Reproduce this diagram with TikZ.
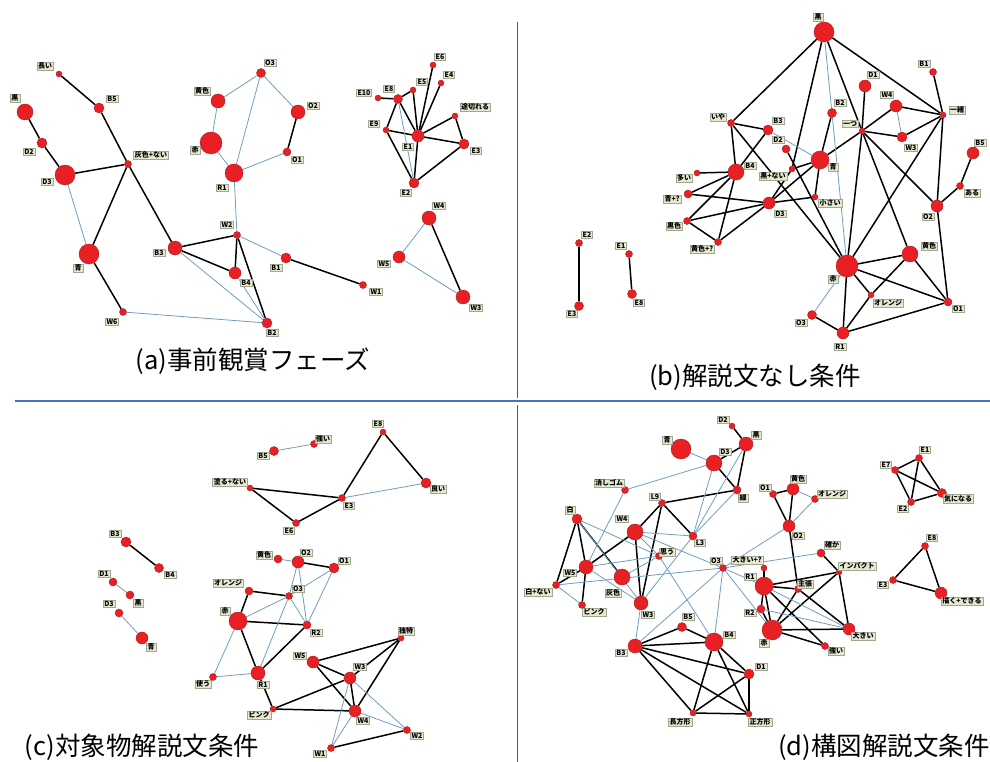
\documentclass[tikz,border=0pt]{standalone}
\usepackage{fontspec}
\newfontfamily\cjk{Noto Sans CJK JP}
\usetikzlibrary{backgrounds}
\definecolor{nred}{RGB}{232,32,36}
\definecolor{nbord}{RGB}{165,30,30}
\definecolor{lfill}{RGB}{230,232,208}
\definecolor{lbord}{RGB}{160,168,145}
\definecolor{eblue}{RGB}{112,158,190}
\definecolor{divblue}{RGB}{68,114,196}
\definecolor{divgray}{RGB}{90,90,90}
\tikzset{
  dot/.style={circle,fill=nred,draw=nbord,line width=0.4pt,inner sep=0pt},
  lbl/.style={fill=lfill,draw=lbord,line width=0.4pt,inner xsep=1.2pt,inner ysep=0.9pt,font=\cjk\fontsize{7}{8}\selectfont\bfseries},
  bk/.style={black,line width=1.5pt},
  bl/.style={eblue,line width=0.8pt},
  captxt/.style={font=\cjk\fontsize{25.5}{30}\selectfont,inner sep=0pt}
}
\newcommand\vx[7]{\node[dot,minimum size=#4pt] (#1) at (#2,#3) {}; \node[lbl] (#1l) at (#5,#6) {#7};}
\begin{document}
\begin{tikzpicture}[x=1pt,y=-1pt]
\useasboundingbox (0,0) rectangle (990,762);
% dividers
\coordinate (vt1) at (517,22); \coordinate (vt2) at (517,398);
\coordinate (vb1) at (517,405); \coordinate (vb2) at (517,762);
\coordinate (h1) at (15,401); \coordinate (h2) at (990,401);
\draw[divgray,line width=0.7pt] (vt1) -- (vt2);
\draw[divgray,line width=0.7pt] (vb1) -- (vb2);
\draw[divblue,line width=1.1pt] (h1) -- (h2);
% ---------- panel a ----------
\vx{aNagai}{59}{74}{6}{45}{66}{長い}
\vx{aB5}{99}{108}{10}{112}{99}{B5}
\vx{aKuro}{25}{112}{16}{15}{98}{黒}
\vx{aD2}{42}{143}{10}{29}{152}{D2}
\vx{aD3}{65}{175}{20}{47}{182}{D3}
\vx{aHai}{128}{164}{7}{151}{155}{灰色+ない}
\vx{aAo}{89}{254}{20}{78}{268}{青}
\vx{aW6}{123}{312}{7}{112}{322}{W6}
\vx{aB3}{175}{248}{14}{159}{253}{B3}
\vx{aKiiro}{218}{101}{14}{202}{91}{黄色}
\vx{aAka}{211}{143}{22}{195}{150}{赤}
\vx{aR1}{234}{173}{18}{222}{188}{R1}
\vx{aO3}{261}{73}{9}{270}{63}{O3}
\vx{aO2}{298}{112}{14}{313}{106}{O2}
\vx{aO1}{287}{152}{8}{297}{160}{O1}
\vx{aW2}{237}{235}{7}{227}{225}{W2}
\vx{aB1}{286}{258}{10}{276}{268}{B1}
\vx{aB4}{235}{273}{12}{246}{283}{B4}
\vx{aB2}{267}{323}{10}{272}{333}{B2}
\vx{aW1}{363}{285}{7}{376}{292}{W1}
\vx{aE6}{433}{65}{6}{440}{57}{E6}
\vx{aE4}{441}{83}{6}{449}{75}{E4}
\vx{aE5}{413}{90}{6}{422}{82}{E5}
\vx{aE8}{398}{99}{9}{389}{89}{E8}
\vx{aE10}{378}{98}{6}{364}{93}{E10}
\vx{aTogi}{455}{116}{6}{475}{107}{途切れる}
\vx{aE9}{386}{130}{6}{374}{124}{E9}
\vx{aE1}{418}{136}{12}{408}{147}{E1}
\vx{aE3}{464}{144}{10}{476}{151}{E3}
\vx{aE2}{414}{183}{10}{406}{193}{E2}
\vx{aW4}{429}{218}{14}{439}{206}{W4}
\vx{aW5}{399}{257}{12}{384}{264}{W5}
\vx{aW3}{463}{297}{14}{476}{308}{W3}
% ---------- panel b ----------
\vx{bIya}{731}{123}{7}{718}{117}{いや}
\vx{bB4}{736}{172}{16}{750}{166}{B4}
\vx{bOoi}{697}{173}{6}{684}{178}{多い}
\vx{bAoQ}{688}{194}{8}{672}{199}{青+?}
\vx{bKuroiro}{687}{221}{7}{674}{226}{黒色}
\vx{bKiQ}{718}{242}{7}{702}{249}{黄色+?}
\vx{bE2}{579}{243}{7}{587}{235}{E2}
\vx{bE3}{579}{306}{9}{572}{314}{E3}
\vx{bE1}{629}{254}{7}{621}{246}{E1}
\vx{bE8}{632}{294}{9}{639}{303}{E8}
\vx{bB3}{768}{130}{10}{778}{121}{B3}
\vx{bD2}{786}{149}{8}{778}{140}{D2}
\vx{bAo}{820}{160}{18}{833}{167}{青}
\vx{bB2}{832}{113}{9}{840}{103}{B2}
\vx{bKuroNai}{792}{169}{6}{773}{176}{黒+ない}
\vx{bD3}{769}{203}{12}{780}{214}{D3}
\vx{bChii}{815}{197}{6}{830}{203}{小さい}
\vx{bKuro}{824}{32}{20}{818}{17}{黒}
\vx{bD1}{865}{86}{12}{873}{75}{D1}
\vx{bB1}{933}{72}{7}{924}{64}{B1}
\vx{bW4}{896}{106}{12}{887}{95}{W4}
\vx{bIssho}{943}{115}{6}{957}{110}{一緒}
\vx{bHitotsu}{862}{131}{6}{850}{124}{一つ}
\vx{bW3}{902}{137}{10}{911}{148}{W3}
\vx{bB5}{973}{153}{12}{980}{143}{B5}
\vx{bAru}{960}{186}{7}{972}{193}{ある}
\vx{bO2}{937}{206}{12}{928}{217}{O2}
\vx{bKiiro}{910}{254}{16}{929}{246}{黄色}
\vx{bAka}{847}{266}{22}{833}{279}{赤}
\vx{bOrange}{871}{295}{6}{888}{303}{オレンジ}
\vx{bO1}{948}{302}{8}{958}{309}{O1}
\vx{bO3}{812}{315}{9}{801}{323}{O3}
\vx{bR1}{843}{333}{12}{840}{347}{R1}
% ---------- panel c ----------
\vx{cE8}{383}{432}{6}{378}{424}{E8}
\vx{cTsuyoi}{314}{444}{7}{323}{439}{強い}
\vx{cB5}{274}{451}{9}{263}{456}{B5}
\vx{cNuru}{250}{488}{6}{230}{482}{塗る+ない}
\vx{cE3}{342}{498}{7}{349}{506}{E3}
\vx{cYoi}{426}{483}{10}{438}{489}{良い}
\vx{cE6}{296}{523}{7}{289}{531}{E6}
\vx{cB3}{126}{542}{10}{115}{534}{B3}
\vx{cB4}{159}{568}{9}{170}{575}{B4}
\vx{cD1}{113}{582}{8}{104}{574}{D1}
\vx{cKuro}{130}{595}{8}{138}{603}{黒}
\vx{cD3}{119}{613}{8}{109}{604}{D3}
\vx{cAo}{142}{638}{12}{151}{647}{青}
\vx{cKiiro}{278}{559}{8}{264}{555}{黄色}
\vx{cO2}{298}{562}{12}{306}{553}{O2}
\vx{cO1}{334}{568}{10}{344}{561}{O1}
\vx{cOrange}{249}{591}{8}{228}{583}{オレンジ}
\vx{cO3}{289}{596}{7}{298}{589}{O3}
\vx{cAka}{238}{621}{18}{225}{611}{赤}
\vx{cR2}{307}{625}{8}{316}{633}{R2}
\vx{cTsukau}{213}{677}{7}{203}{684}{使う}
\vx{cR1}{258}{673}{14}{263}{685}{R1}
\vx{cDoku}{401}{638}{6}{406}{631}{独特}
\vx{cW5}{313}{662}{12}{300}{656}{W5}
\vx{cW3}{350}{678}{12}{360}{667}{W3}
\vx{cPink}{273}{709}{6}{259}{715}{ピンク}
\vx{cW4}{355}{711}{12}{363}{721}{W4}
\vx{cW2}{407}{730}{7}{417}{736}{W2}
\vx{cW1}{331}{748}{7}{320}{754}{W1}
% ---------- panel d ----------
\vx{dD2}{732}{426}{6}{723}{420}{D2}
\vx{dKuro}{746}{444}{14}{756}{435}{黒}
\vx{dAo}{681}{449}{20}{667}{440}{青}
\vx{dD3}{714}{463}{16}{725}{452}{D3}
\vx{dKeshi}{625}{490}{7}{609}{483}{消しゴム}
\vx{dSen}{737}{490}{8}{743}{498}{線}
\vx{dL9}{662}{503}{7}{655}{497}{L9}
\vx{dShiro}{577}{519}{10}{570}{510}{白}
\vx{dW4}{635}{532}{16}{622}{519}{W4}
\vx{dL3}{693}{536}{8}{700}{543}{L3}
\vx{dOmou}{659}{556}{7}{667}{552}{思う}
\vx{dO3}{723}{568}{7}{716}{561}{O3}
\vx{dW5}{586}{567}{14}{570}{573}{W5}
\vx{dHai}{622}{577}{16}{613}{593}{灰色}
\vx{dShiroNai}{556}{585}{7}{538}{592}{白+ない}
\vx{dPink}{582}{605}{7}{594}{612}{ピンク}
\vx{dW3}{641}{603}{14}{648}{615}{W3}
\vx{dB5}{682}{627}{9}{688}{617}{B5}
\vx{dB4}{714}{642}{18}{729}{635}{B4}
\vx{dB3}{635}{646}{14}{621}{653}{B3}
\vx{dD1}{749}{674}{10}{761}{667}{D1}
\vx{dChoho}{693}{713}{6}{680}{722}{長方形}
\vx{dSeiho}{749}{714}{6}{760}{722}{正方形}
\vx{dO1}{773}{494}{7}{765}{488}{O1}
\vx{dKiiro}{793}{489}{12}{798}{479}{黄色}
\vx{dOrange}{815}{499}{7}{832}{494}{オレンジ}
\vx{dO2}{789}{526}{12}{798}{536}{O2}
\vx{dTashika}{821}{553}{8}{832}{545}{確か}
\vx{dOokiiQ}{764}{568}{6}{747}{560}{大きい+?}
\vx{dImpact}{839}{572}{6}{857}{566}{インパクト}
\vx{dR1}{764}{586}{18}{750}{577}{R1}
\vx{dShucho}{798}{589}{7}{805}{584}{主張}
\vx{dR2}{761}{609}{8}{750}{613}{R2}
\vx{dAka}{772}{630}{20}{764}{643}{赤}
\vx{dOokii}{849}{629}{12}{863}{636}{大きい}
\vx{dTsuyoi}{825}{646}{7}{836}{651}{強い}
\vx{dE1}{919}{458}{7}{925}{450}{E1}
\vx{dE7}{895}{470}{7}{886}{465}{E7}
\vx{dKini}{942}{493}{9}{958}{499}{気になる}
\vx{dE2}{911}{502}{7}{903}{509}{E2}
\vx{dE8}{925}{546}{7}{932}{538}{E8}
\vx{dE3}{893}{580}{7}{883}{585}{E3}
\vx{dEgaku}{941}{593}{12}{962}{601}{描く+できる}
% ---------- edges ----------
\begin{scope}[on background layer]
\foreach \u/\v in {aNagai/aB5,aB5/aHai,aKuro/aD2,aD2/aD3,aD3/aHai,aHai/aAo,aHai/aB3,aAo/aW6,aB3/aW2,aB3/aB4,aW2/aB4,aW2/aB2,aB1/aW1,aO2/aO1,aE10/aE8,aE8/aE5,aE8/aE9,aE8/aE1,aE5/aE1,aE6/aE1,aE4/aE1,aE9/aE1,aE9/aE2,aE1/aE2,aE1/aE3,aE1/aTogi,aTogi/aE3,aE2/aE3,aW4/aW3}
  \draw[bk] (\u) -- (\v);
\foreach \u/\v in {aD3/aAo,aW6/aB2,aB3/aB2,aB4/aB2,aW2/aB1,aW2/aR1,aR1/aAka,aAka/aKiiro,aKiiro/aO3,aO3/aR1,aO3/aO2,aO1/aR1,aE8/aE2,aW4/aW5,aW5/aW3}
  \draw[bl] (\u) -- (\v);
\foreach \u/\v in {bIya/bKuro,bIya/bB3,bIya/bB4,bIya/bAka,bB3/bB4,bB4/bOoi,bB4/bAoQ,bB4/bKuroiro,bB4/bKiQ,bAoQ/bD3,bKuroiro/bD3,bKuroiro/bKiQ,bKiQ/bD3,bD3/bKuroNai,bD3/bAo,bD3/bChii,bChii/bAo,bKuroNai/bAo,bKuroNai/bKuro,bD2/bAka,bKuro/bHitotsu,bKuro/bIssho,bB2/bAo,bAo/bHitotsu,bHitotsu/bD1,bHitotsu/bW4,bHitotsu/bW3,bHitotsu/bAka,bHitotsu/bKiiro,bHitotsu/bO2,bIssho/bB1,bIssho/bW4,bIssho/bW3,bIssho/bO2,bIssho/bAka,bO2/bAru,bAru/bB5,bO2/bO1,bAka/bKiiro,bAka/bO1,bAka/bOrange,bAka/bR1,bKiiro/bO1,bKiiro/bOrange,bOrange/bR1,bO3/bR1,bR1/bO1,bE2/bE3,bE1/bE8}
  \draw[bk] (\u) -- (\v);
\foreach \u/\v in {bB3/bAo,bKuro/bAka,bW4/bW3,bAka/bO3}
  \draw[bl] (\u) -- (\v);
\foreach \u/\v in {cNuru/cE3,cNuru/cE6,cE6/cE3,cE3/cE8,cE8/cYoi,cB3/cB4,cO2/cO1,cOrange/cO3,cOrange/cAka,cAka/cR1,cAka/cR2,cR1/cR2,cR1/cPink,cPink/cW4,cPink/cW3,cW5/cDoku,cW5/cW3,cW5/cW4,cW3/cDoku,cW4/cDoku,cW3/cW4,cW1/cW2}
  \draw[bk] (\u) -- (\v);
\foreach \u/\v in {cB5/cTsuyoi,cE3/cYoi,cD1/cKuro,cD3/cAo,cKiiro/cO2,cO2/cO3,cO2/cR2,cO1/cO3,cO1/cR2,cO3/cAka,cO3/cR1,cO3/cR2,cAka/cTsukau,cTsukau/cR1,cW3/cW1,cW4/cW1,cW3/cW2,cW4/cW2}
  \draw[bl] (\u) -- (\v);
\foreach \u/\v in {dD2/dKuro,dKuro/dD3,dKuro/dSen,dD3/dSen,dL9/dSen,dL9/dL3,dL9/dW4,dL9/dW3,dW4/dW5,dW4/dW3,dShiro/dW5,dShiro/dShiroNai,dShiro/dHai,dW5/dShiroNai,dW5/dPink,dB3/dB5,dB5/dB4,dB3/dB4,dB3/dD1,dB3/dChoho,dB3/dSeiho,dB4/dChoho,dB4/dSeiho,dB4/dD1,dD1/dChoho,dD1/dSeiho,dChoho/dSeiho,dO2/dKiiro,dO2/dO1,dO1/dKiiro,dO2/dShucho,dOokiiQ/dR1,dR1/dShucho,dR1/dImpact,dR1/dTsuyoi,dR1/dR2,dR1/dAka,dShucho/dAka,dShucho/dOokii,dTashika/dImpact,dImpact/dAka,dImpact/dOokii,dAka/dOokii,dAka/dTsuyoi,dR2/dAka,dE1/dE7,dE1/dE2,dE1/dKini,dE7/dE2,dE7/dKini,dE2/dKini,dE8/dE3,dE8/dEgaku,dE3/dEgaku}
  \draw[bk] (\u) -- (\v);
\foreach \u/\v in {dAo/dD3,dKeshi/dD3,dKeshi/dW5,dKuro/dL3,dD3/dL3,dSen/dL3,dW4/dL3,dW4/dOmou,dW4/dO3,dShiro/dOmou,dShiro/dW3,dW5/dOmou,dW5/dW3,dShiroNai/dPink,dShiroNai/dO3,dHai/dOmou,dOmou/dB4,dW3/dL3,dW3/dB3,dO3/dB3,dO3/dB4,dO3/dR1,dO3/dAka,dO3/dO2,dTashika/dO3,dKiiro/dOrange,dO2/dOrange,dR1/dOokii,dR2/dOokii}
  \draw[bl] (\u) -- (\v);
\end{scope}
% captions
\node[captxt] (capa) at (253,361) {(a)事前観賞フェーズ};
\node[captxt] (capb) at (755,377) {(b)解説文なし条件};
\node[captxt] (capc) at (142,747) {(c)対象物解説文条件};
\node[captxt] (capd) at (884,747) {(d)構図解説文条件};
\end{tikzpicture}
\end{document}
